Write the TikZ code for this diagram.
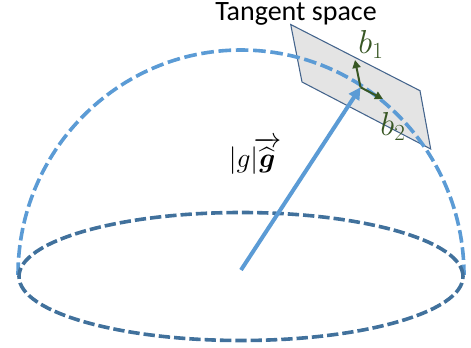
\documentclass[tikz,border=0pt]{standalone}
\usepackage{fontspec}
\usepackage{amsmath}
\setmainfont{Carlito}
\usetikzlibrary{arrows.meta}
\definecolor{domeblue}{HTML}{5B9BD5}
\definecolor{rimblue}{HTML}{41719C}
\definecolor{planegray}{HTML}{E4E4E4}
\definecolor{planeedge}{HTML}{44648C}
\definecolor{basegreen}{HTML}{375623}
\tikzset{
  domeline/.style={line width=2.7pt,dash pattern=on 9.5pt off 3.5pt},
  rimline/.style={line width=2.7pt,dash pattern=on 8.5pt off 3pt},
  baseline arrow/.style={line width=1.5pt,basegreen,-{Triangle[length=6pt,width=6pt]}}
}
\begin{document}
\begin{tikzpicture}[x=0.75pt,y=0.75pt]
\useasboundingbox (0,0) rectangle (471,347);
\coordinate (p1) at (290.7,322.5);
\coordinate (p2) at (420.0,256.3);
\coordinate (p3) at (430.7,198.0);
\coordinate (p4) at (302.0,265.0);
\coordinate (centre) at (241,77);
\coordinate (foot) at (360.5,259.7);
\coordinate (tipone) at (355,287);
\coordinate (tiptwo) at (383,248);
\draw[line width=0.8pt,planeedge,fill=planegray] (p1) -- (p2) -- (p3) -- (p4) -- cycle;
\draw[domeline,domeblue] (18,72) arc[start angle=180,end angle=0,x radius=223,y radius=225];
\draw[rimline,rimblue] (241,70.5) ellipse[x radius=222,y radius=64];
\draw[line width=3pt,domeblue,-{Triangle[length=9pt,width=9pt]}] (centre) -- (foot);
\draw[baseline arrow] (foot) -- (tipone);
\draw[baseline arrow] (foot) -- (tiptwo);
\node[font=\fontsize{21}{23}\selectfont,inner sep=0pt] (title) at (296,333.5) {Tangent space};
\node[font=\fontsize{25}{27}\selectfont,text=basegreen] (bone) at (371,303) {$b_1$};
\node[font=\fontsize{25}{27}\selectfont,text=basegreen] (btwo) at (393,221) {$b_2$};
\node[font=\fontsize{20}{22}\selectfont] (len) at (255,191) {$|g|\mkern-3mu\overrightarrow{\widehat{\boldsymbol{g}}}$};
\end{tikzpicture}
\end{document}
